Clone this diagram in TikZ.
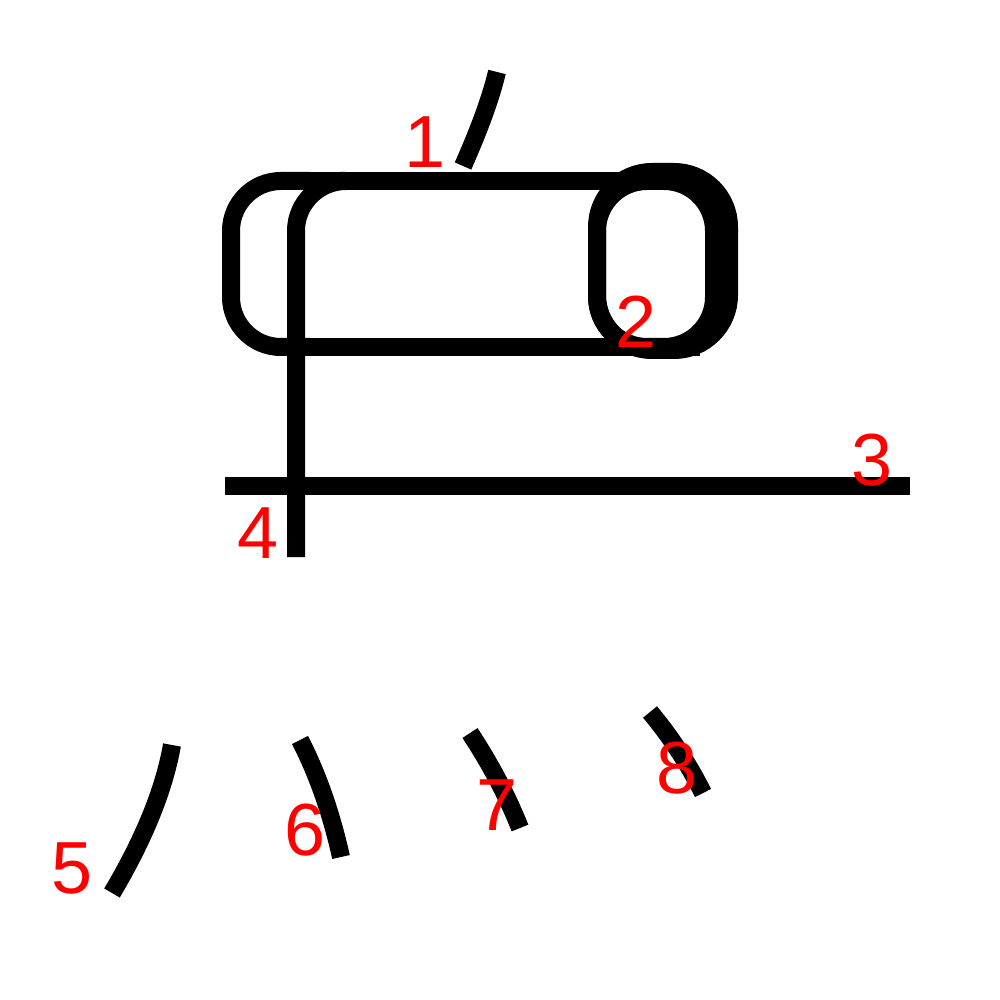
\documentclass[tikz,border=0pt]{standalone}
\usepackage{fontspec}
\setmainfont{Liberation Sans}
\usepackage{tikz}
\usetikzlibrary{positioning, calc}

\begin{document}
\begin{tikzpicture}[
        x=1cm, y=1cm,
        stroke/.style={
            draw,
            line width=0.18cm,
            line cap=butt
        },
        loopstroke/.style={
            stroke,
            rounded corners=0.5cm
        },
        num/.style={
            text=red,
            font=\fontsize{21}{21}\selectfont,
            inner sep=0pt
        }
    ]

    \useasboundingbox (0,0) rectangle (10,-10);

    % --------------------------------------------------------
    % Upper part
    % --------------------------------------------------------

    % stroke 1
    \coordinate (s1a) at (4.97,-0.72);
    \coordinate (s1b) at (4.63,-1.66);
    \draw[stroke]
        (s1a) .. controls (4.90,-1.01) and (4.78,-1.32) .. (s1b);

    % stroke 2 (left loop, top, bottom, right loop)
    \draw[loopstroke]
        (3.10,-1.81) -- (2.31,-1.81) -- (2.31,-3.47) -- (3.10,-3.47);

    \draw[stroke]
        (3.00,-1.81) -- (6.60,-1.81);

    \draw[stroke]
        (2.96,-3.47) -- (7.00,-3.47);

    \draw[loopstroke]
        (5.97,-1.81) rectangle (7.14,-3.47);

    \draw[loopstroke, rounded corners=0.55cm]
        (5.97,-1.72) rectangle (7.29,-3.50);

    % stroke 3
    \draw[stroke]
        (2.25,-4.86) -- (9.10,-4.86);

    % stroke 4
    \draw[stroke, rounded corners=0.5cm]
        (3.40,-1.81) -- (2.96,-1.81) -- (2.96,-5.57);

    % --------------------------------------------------------
    % Dots
    % --------------------------------------------------------

    \draw[stroke]
        (1.72,-7.45) .. controls (1.64,-7.90) and (1.44,-8.39) .. (1.12,-8.93);

    \draw[stroke]
        (3.00,-7.40) .. controls (3.17,-7.73) and (3.31,-8.12) .. (3.41,-8.57);

    \draw[stroke]
        (4.70,-7.33) .. controls (4.89,-7.62) and (5.06,-7.93) .. (5.20,-8.28);

    \draw[stroke]
        (6.50,-7.12) .. controls (6.70,-7.36) and (6.88,-7.63) .. (7.03,-7.93);

    % --------------------------------------------------------
    % Stroke numbers
    % --------------------------------------------------------

    \node[num] (n1) at (4.25,-1.42) {1};
    \node[num] (n2) at (6.36,-3.22) {2};
    \node[num] (n3) at (8.72,-4.60) {3};
    \node[num] (n4) at (2.58,-5.33) {4};
    \node[num] (n5) at (0.72,-8.68) {5};
    \node[num] (n6) at (3.05,-8.30) {6};
    \node[num] (n7) at (4.97,-8.05) {7};
    \node[num] (n8) at (6.77,-7.68) {8};

\end{tikzpicture}
\end{document}
